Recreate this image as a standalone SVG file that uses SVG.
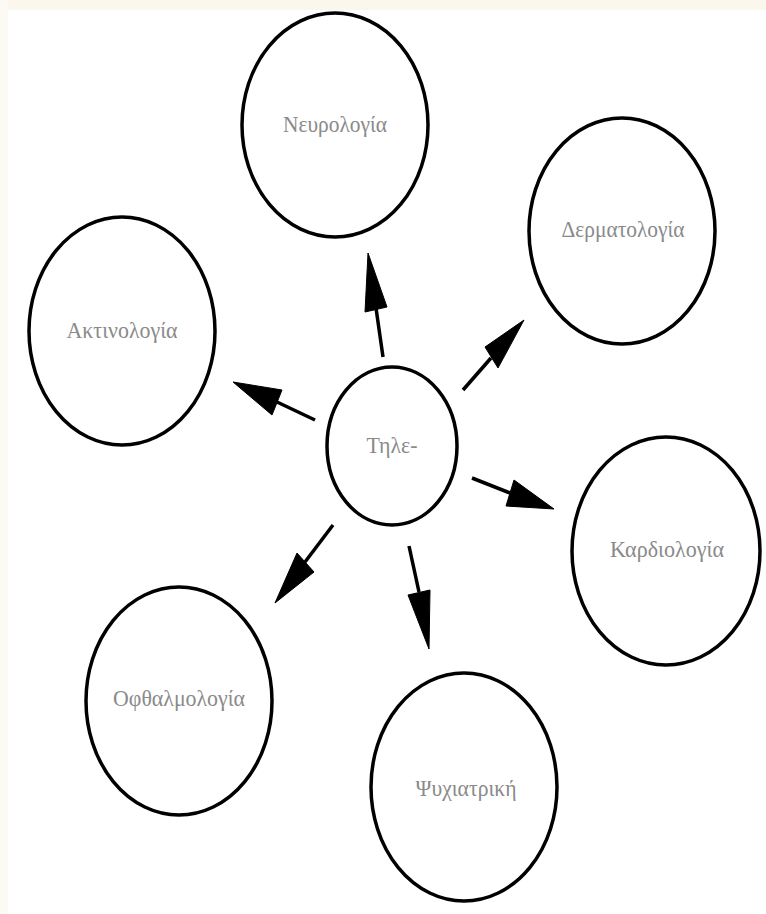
<svg xmlns="http://www.w3.org/2000/svg" width="766" height="914" viewBox="0 0 766 914">
  <style>
    .node ellipse { fill: #ffffff; stroke: #000000; stroke-width: 3.5; }
    .node text { font-family: "Liberation Serif", "DejaVu Serif", serif; font-size: 24px; fill: #8a8a8a; text-anchor: middle; }
    .edges line { stroke: #000000; stroke-width: 3.5; }
    .edges polygon { fill: #000000; stroke: #000000; stroke-width: 1; stroke-linejoin: miter; }
  </style>
  <rect x="0" y="0" width="766" height="914" fill="#ffffff"/>
  <rect x="0" y="0" width="766" height="10" fill="#fbf7ec"/>
  <rect x="0" y="0" width="8" height="914" fill="#fcfbf3"/>

  <g id="node-neurologia" class="node">
    <ellipse cx="335" cy="125" rx="93" ry="112"/>
    <text x="335" y="132" textLength="104" lengthAdjust="spacingAndGlyphs">Νευρολογία</text>
  </g>
  <g id="node-dermatologia" class="node">
    <ellipse cx="622" cy="231" rx="93" ry="113"/>
    <text x="623" y="237" textLength="123" lengthAdjust="spacingAndGlyphs">Δερματολογία</text>
  </g>
  <g id="node-aktinologia" class="node">
    <ellipse cx="122" cy="331" rx="93" ry="114"/>
    <text x="122" y="338" textLength="111" lengthAdjust="spacingAndGlyphs">Ακτινολογία</text>
  </g>
  <g id="node-tile" class="node">
    <ellipse cx="392" cy="446" rx="65" ry="79"/>
    <text x="392" y="453" textLength="51" lengthAdjust="spacingAndGlyphs">Τηλε-</text>
  </g>
  <g id="node-kardiologia" class="node">
    <ellipse cx="666" cy="551" rx="94" ry="114"/>
    <text x="667" y="557" textLength="114" lengthAdjust="spacingAndGlyphs">Καρδιολογία</text>
  </g>
  <g id="node-ofthalmologia" class="node">
    <ellipse cx="179" cy="701" rx="93" ry="114"/>
    <text x="179" y="706" textLength="132" lengthAdjust="spacingAndGlyphs">Οφθαλμολογία</text>
  </g>
  <g id="node-psychiatriki" class="node">
    <ellipse cx="464" cy="787" rx="93" ry="114"/>
    <text x="466" y="796" textLength="101" lengthAdjust="spacingAndGlyphs">Ψυχιατρική</text>
  </g>

  <g id="connectors" class="edges">
    <line x1="383" y1="357" x2="376" y2="308"/>
    <polygon points="365,312 387,307 368,253"/>
    <line x1="463" y1="390" x2="491" y2="358"/>
    <polygon points="485,347 498,368 524,320"/>
    <line x1="315" y1="420" x2="277" y2="402"/>
    <polygon points="282,390 272,415 233,382"/>
    <line x1="472" y1="478" x2="510" y2="493"/>
    <polygon points="514,480 506,506 554,509"/>
    <line x1="333" y1="525" x2="305" y2="562"/>
    <polygon points="297,553 314,572 275,603"/>
    <line x1="409" y1="546" x2="419" y2="592"/>
    <polygon points="408,595 430,590 429,649"/>
  </g>
</svg>
